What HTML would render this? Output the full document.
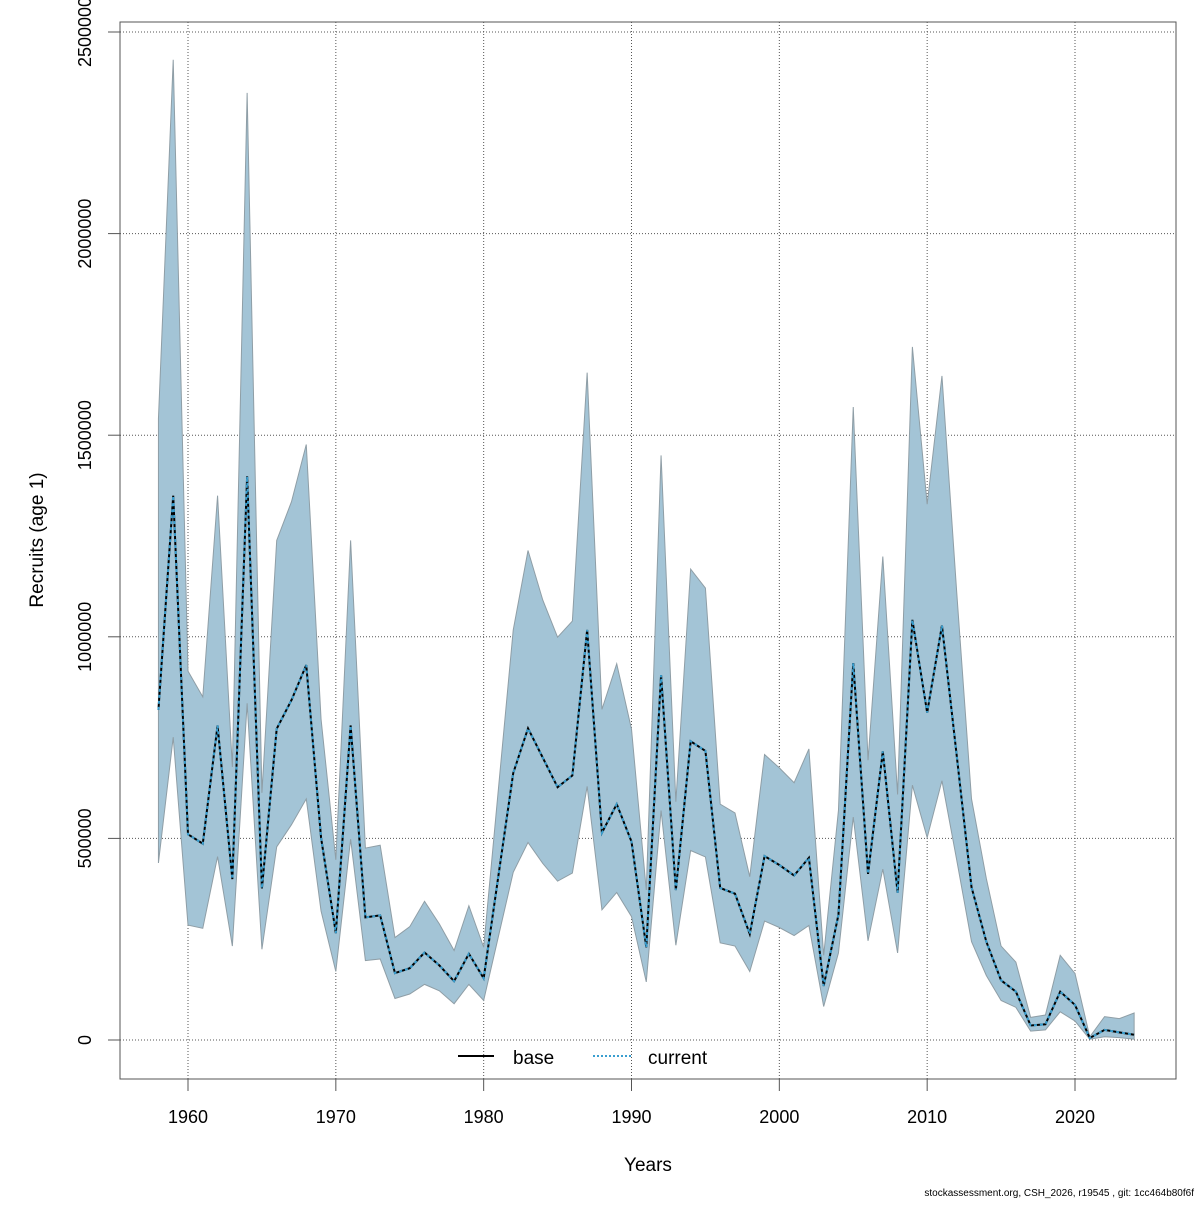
<!DOCTYPE html>
<html><head><meta charset="utf-8"><style>
body{margin:0;background:#fff;}
svg text{font-family:"Liberation Sans",Arial,sans-serif;}
</style></head><body>
<svg id="chart" width="1200" height="1200" xmlns="http://www.w3.org/2000/svg">
<rect width="1200" height="1200" fill="#fff"/>
<g id="grid"></g>
<g id="marks"></g>
<g id="axes"></g>
<text x="648" y="1171" font-size="19" text-anchor="middle">Years</text>
<text x="0" y="0" font-size="19" text-anchor="middle" transform="translate(43,540) rotate(-90)">Recruits (age 1)</text>
<text x="1194" y="1196" font-size="10" text-anchor="end">stockassessment.org, CSH_2026, r19545 , git: 1cc464b80f6f</text>
<g>
<line x1="458" y1="1056" x2="494" y2="1056" stroke="#000" stroke-width="2"/>
<text x="513" y="1064" font-size="19">base</text>
<line x1="593" y1="1056" x2="631" y2="1056" stroke="#3a9fd0" stroke-width="2" stroke-dasharray="2,2"/>
<text x="648" y="1064" font-size="19">current</text>
</g>
</svg>
<script>
const years=[1958,1959,1960,1961,1962,1963,1964,1965,1966,1967,1968,1969,1970,1971,1972,1973,1974,1975,1976,1977,1978,1979,1980,1981,1982,1983,1984,1985,1986,1987,1988,1989,1990,1991,1992,1993,1994,1995,1996,1997,1998,1999,2000,2001,2002,2003,2004,2005,2006,2007,2008,2009,2010,2011,2012,2013,2014,2015,2016,2017,2018,2019,2020,2021,2022,2023,2024];
const upper=[1541000,2431000,915000,851000,1350000,677000,2349000,613000,1239000,1335000,1477000,796000,447000,1239000,476000,483000,254000,281000,344000,288000,222000,333000,230000,624000,1017000,1214000,1091000,999000,1039000,1655000,820000,933000,771000,372000,1450000,591000,1168000,1121000,585000,563000,405000,708000,675000,638000,722000,210000,570000,1570000,694000,1199000,609000,1719000,1329000,1647000,1110000,598000,401000,233000,193000,56000,62000,210000,165000,8000,58000,53000,67000];
const recruits=[819000,1350000,510000,487000,780000,399000,1398000,376000,772000,843000,930000,502000,265000,780000,304000,309000,166000,178000,217000,185000,146000,214000,153000,408000,662000,773000,700000,627000,656000,1017000,514000,585000,492000,230000,905000,372000,741000,717000,377000,363000,263000,456000,434000,408000,452000,134000,311000,935000,412000,716000,365000,1042000,812000,1028000,705000,379000,244000,148000,120000,36000,39000,120000,87000,5000,25000,19000,13000];
const lower=[439000,751000,285000,277000,455000,233000,835000,225000,479000,534000,598000,320000,170000,498000,197000,201000,103000,114000,138000,122000,90000,138000,98000,257000,416000,490000,438000,394000,414000,629000,323000,366000,306000,144000,569000,235000,470000,454000,241000,233000,170000,295000,279000,259000,284000,83000,216000,553000,246000,424000,216000,632000,502000,643000,446000,244000,160000,98000,81000,22000,25000,70000,47000,2000,8000,6000,2000];
const xTicks=[1960,1970,1980,1990,2000,2010,2020];
const yTicks=[0,500000,1000000,1500000,2000000,2500000];

const NS="http://www.w3.org/2000/svg";
const L=120,R=1176,T=22,B=1079;
function sx(y){return 188+(y-1960)*(1075-188)/60;}
function sy(v){return 1040-v*(1040-32)/2500000;}
function mk(tag,attrs,parent){const e=document.createElementNS(NS,tag);for(const k in attrs)e.setAttribute(k,attrs[k]);parent.appendChild(e);return e;}
const grid=document.getElementById('grid'),marks=document.getElementById('marks'),axes=document.getElementById('axes');
xTicks.forEach(t=>{
  const g=mk('line',{x1:sx(t),x2:sx(t),y1:T,y2:B,stroke:'#555','stroke-width':1,'stroke-dasharray':'1,2'},grid);
  
  
  const tk=mk('line',{x1:sx(t),x2:sx(t),y1:B,y2:B+12,stroke:'#555','stroke-width':1},axes);
  
  
  const tx=mk('text',{x:sx(t),y:1123,'font-size':18,'text-anchor':'middle'},axes);
  tx.textContent=t;
  
  
});
yTicks.forEach(t=>{
  const g=mk('line',{x1:L,x2:R,y1:sy(t),y2:sy(t),stroke:'#555','stroke-width':1,'stroke-dasharray':'1,2'},grid);
  
  
  const tk=mk('line',{x1:L-12,x2:L,y1:sy(t),y2:sy(t),stroke:'#555','stroke-width':1},axes);
  
  
  const tx=mk('text',{x:0,y:0,'font-size':18,'text-anchor':'middle',transform:'translate(91,'+sy(t)+') rotate(-90)'},axes);
  tx.textContent=t;
  
  
});
const box=mk('rect',{x:L,y:T,width:R-L,height:B-T,fill:'none',stroke:'#555','stroke-width':1},axes);


let pts=years.map((y,i)=>sx(y)+','+sy(upper[i]));
for(let i=years.length-1;i>=0;i--)pts.push(sx(years[i])+','+sy(lower[i]));
const band=mk('polygon',{points:pts.join(' '),fill:'#a3c4d6',stroke:'#8f9ea6','stroke-width':1},marks);


const lp=years.map((y,i)=>sx(y)+','+sy(recruits[i])).join(' ');
const base=mk('polyline',{points:lp,fill:'none',stroke:'#000','stroke-width':2},marks);


const cur=mk('polyline',{points:lp,fill:'none',stroke:'#3a9fd0','stroke-width':2,'stroke-dasharray':'3,3'},marks);


</script>
</body></html>
